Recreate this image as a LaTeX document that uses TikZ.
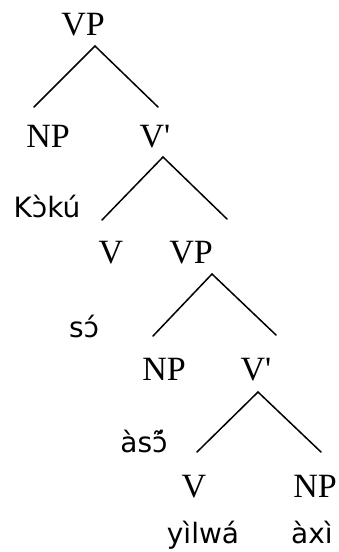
\documentclass[tikz,border=0pt]{standalone}
\usepackage{fontspec}
\usepackage{tikz}
\newfontfamily\catfont{Liberation Serif}
\newfontfamily\wordfont{DejaVu Sans}
\tikzstyle{cat} = [inner sep=0pt, anchor=base, font={\catfont\fontsize{34}{34}\selectfont}]
\tikzstyle{word} = [inner sep=0pt, anchor=base, font={\wordfont\fontsize{28}{28}\selectfont}]
\tikzstyle{branch} = [style={line width=1.5pt, line cap=round}]

\begin{document}
\begin{tikzpicture}[x=1pt,y=-1pt]
    \useasboundingbox (0,0) rectangle (339,552);
    \begin{scope}
      % categories
      \node[cat] (vp1) at (83,35) {VP};
      \node[cat] (np1) at (48,147) {NP};
      \node[cat] (vb1) at (155,147) {V'};
      \node[cat] (v1) at (111,263) {V};
      \node[cat] (vp2) at (191,263) {VP};
      \node[cat] (np2) at (164,380) {NP};
      \node[cat] (vb2) at (256,380) {V'};
      \node[cat] (v2) at (194,497) {V};
      \node[cat] (np3) at (315,497) {NP};
      % words
      \node[word] (w1) at (47,217) {Kɔ̀kú};
      \node[word] (w2) at (84,337) {sɔ́};
      \node[word] (w3) at (144,452) {àsɔ̃́};
      \node[word] (w4) at (203,543) {yìlwá};
      \node[word] (w5) at (312,543) {àxì};
      % branch points
      \coordinate (t1) at (95,46);
      \coordinate (l1) at (34,107);
      \coordinate (r1) at (158,107);
      \coordinate (t2) at (163,157);
      \coordinate (l2) at (102,220);
      \coordinate (r2) at (227,219);
      \coordinate (t3) at (212,274);
      \coordinate (l3) at (153,336);
      \coordinate (r3) at (276,335);
      \coordinate (t4) at (258,392);
      \coordinate (l4) at (197,452);
      \coordinate (r4) at (321,452);
      \draw[branch] (l1) -- (t1) -- (r1);
      \draw[branch] (l2) -- (t2) -- (r2);
      \draw[branch] (l3) -- (t3) -- (r3);
      \draw[branch] (l4) -- (t4) -- (r4);
    \end{scope}
  \end{tikzpicture}
\end{document}
